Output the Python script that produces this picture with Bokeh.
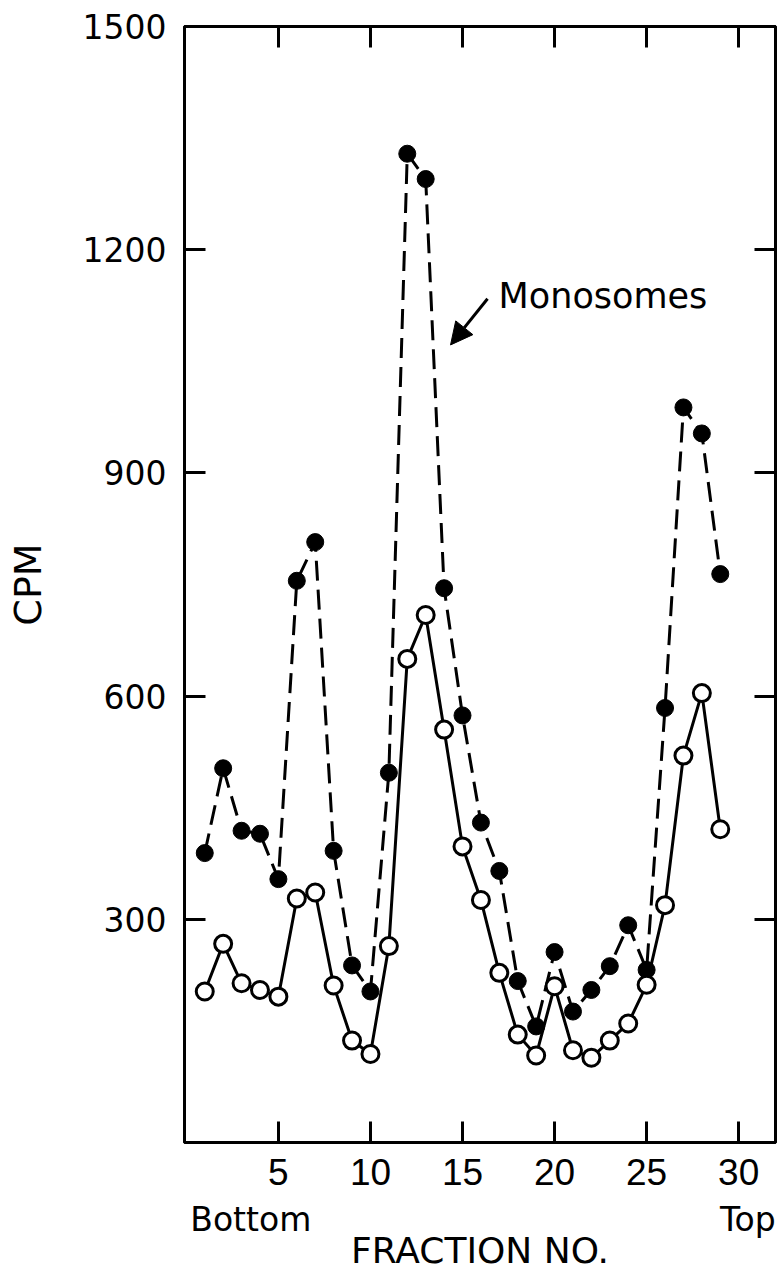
from bokeh.plotting import figure
from bokeh.models import (Range1d, FixedTicker, LinearAxis, Label, Arrow, NormalHead,
                          ColumnDataSource)
from bokeh.embed import file_html
from bokeh.resources import INLINE

# ---- data ----
fractions = list(range(1, 30))
cpm_filled = [389, 503, 419, 415, 354, 755, 807, 392, 238, 203,
              497, 1329, 1295, 745, 574, 430, 365, 217, 156, 256,
              176, 205, 237, 292, 232, 584, 988, 953, 764]
cpm_open = [203, 267, 214, 205, 196, 328, 336, 211, 137, 119,
            264, 650, 709, 555, 398, 326, 228, 145, 117, 210,
            124, 114, 137, 160, 212, 319, 520, 604, 421]
x_ticks = [5, 10, 15, 20, 25, 30]
y_ticks = [300, 600, 900, 1200, 1500]
end_labels = {3.5: "Bottom", 30.5: "Top"}

src = ColumnDataSource(dict(x=fractions, f=cpm_filled, o=cpm_open))

p = figure(width=779, height=1275, output_backend="svg", toolbar_location=None,
           x_range=Range1d(-0.1, 32.0), y_range=Range1d(0, 1500),
           x_axis_location=None, y_axis_location=None,
           min_border_left=184, min_border_right=4, min_border_top=26,
           min_border_bottom=133)
p.grid.visible = False
p.outline_line_color = "black"
p.outline_line_width = 3
p.background_fill_color = "white"
p.border_fill_color = "white"

def style_axis(ax, show_labels):
    ax.axis_line_width = 3
    ax.axis_line_color = "black"
    ax.major_tick_in = 21
    ax.major_tick_out = 0
    ax.major_tick_line_width = 3
    ax.minor_tick_line_color = None
    if not show_labels:
        ax.major_label_overrides = {t: "" for t in ax.ticker.ticks}
        ax.major_label_standoff = 0

left = LinearAxis(ticker=FixedTicker(ticks=y_ticks))
style_axis(left, True)
left.major_label_text_font = "DejaVu Sans"
left.major_label_text_font_size = "33px"
left.major_label_text_color = "black"
left.major_label_standoff = 18
left.axis_label = "CPM"
left.axis_label_text_font = "DejaVu Sans"
left.axis_label_text_font_size = "38px"
left.axis_label_text_font_style = "normal"
left.axis_label_text_color = "black"
left.axis_label_standoff = 30
p.add_layout(left, "left")

right = LinearAxis(ticker=FixedTicker(ticks=y_ticks))
style_axis(right, False)
p.add_layout(right, "right")

bottom = LinearAxis(ticker=FixedTicker(ticks=x_ticks))
style_axis(bottom, True)
bottom.major_label_text_font = "Liberation Sans"
bottom.major_label_text_font_size = "37px"
bottom.major_label_text_color = "black"
bottom.major_label_standoff = 16
p.add_layout(bottom, "below")

# second row under the axis: "Bottom" / "Top" and the axis title
ends = LinearAxis(ticker=FixedTicker(ticks=list(end_labels.keys())),
                  major_label_overrides=end_labels)
ends.axis_line_color = None
ends.major_tick_line_color = None
ends.minor_tick_line_color = None
ends.major_tick_in = 0
ends.major_tick_out = 0
ends.major_label_standoff = 12
ends.major_label_text_font = "DejaVu Sans"
ends.major_label_text_font_size = "33px"
ends.major_label_text_color = "black"
ends.axis_label = "FRACTION NO."
ends.axis_label_text_font = "DejaVu Sans"
ends.axis_label_text_font_size = "36px"
ends.axis_label_text_font_style = "normal"
ends.axis_label_text_color = "black"
ends.axis_label_standoff = -12
p.add_layout(ends, "below")

top = LinearAxis(ticker=FixedTicker(ticks=x_ticks))
style_axis(top, False)
p.add_layout(top, "above")

# lines
p.line("x", "f", source=src, line_color="black", line_width=3, line_dash="20 9")
p.line("x", "o", source=src, line_color="black", line_width=3)
# markers
p.scatter("x", "f", source=src, marker="circle", size=17, fill_color="black",
          line_color="black")
p.scatter("x", "o", source=src, marker="circle", size=17, fill_color="white",
          line_color="black", line_width=3)

# annotation
p.add_layout(Label(x=16.96, y=1138, text="Monosomes", text_font="DejaVu Sans",
                   text_font_size="35px", text_color="black",
                   text_baseline="alphabetic", text_align="left"))
p.add_layout(Arrow(end=NormalHead(size=22, fill_color="black", line_color="black"),
                   x_start=16.36, y_start=1134, x_end=14.35, y_end=1072,
                   line_width=3, line_color="black"))

open("out.html", "w").write(file_html(p, INLINE))
